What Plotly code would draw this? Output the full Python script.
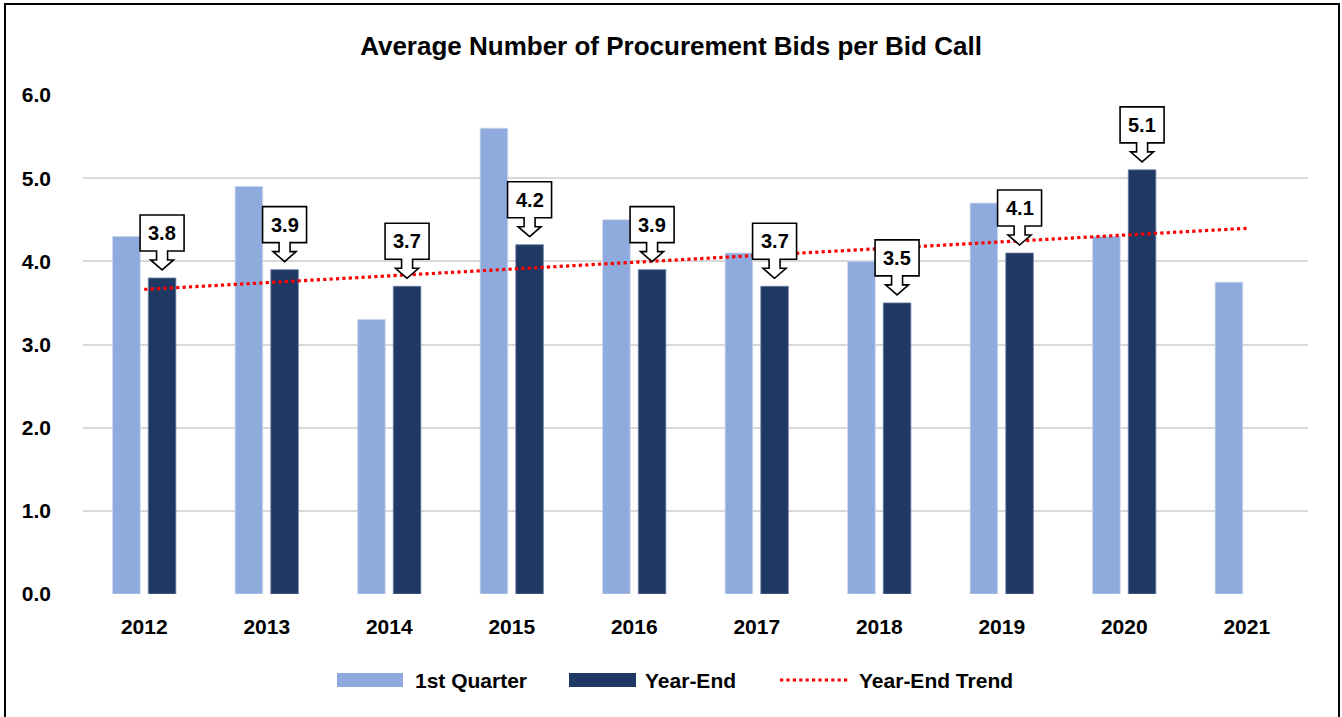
import numpy as np
import plotly.graph_objects as go

years = [2012, 2013, 2014, 2015, 2016, 2017, 2018, 2019, 2020, 2021]
q1_values = [4.3, 4.9, 3.3, 5.6, 4.5, 4.1, 4.0, 4.7, 4.3, 3.75]
ye_years = [2012, 2013, 2014, 2015, 2016, 2017, 2018, 2019, 2020]
ye_values = [3.8, 3.9, 3.7, 4.2, 3.9, 3.7, 3.5, 4.1, 5.1]
y_ticks = [0, 1, 2, 3, 4, 5, 6]

C_Q1 = "#8FAADC"
C_YE = "#203864"
C_TR = "#FF0000"
FONT = "Liberation Sans, Arial, sans-serif"

BAR_W = 0.225
Q1_OFF = -0.258
YE_OFF = 0.033

fig = go.Figure()
fig.add_trace(go.Bar(x=years, y=q1_values, name="1st Quarter", marker_color=C_Q1,
                     marker_line=dict(color="#C9D6EE", width=0.8),
                     width=BAR_W, offset=Q1_OFF, showlegend=False))
fig.add_trace(go.Bar(x=ye_years, y=ye_values, name="Year-End", marker_color=C_YE,
                     marker_line=dict(color="#6C7FA3", width=0.8),
                     width=BAR_W, offset=YE_OFF, showlegend=False))

# linear trend of year-end values, extended to the last category
coef = np.polyfit(ye_years, ye_values, 1)
tr_x = np.array([years[0], years[-1]], dtype=float)
tr_y = np.polyval(coef, tr_x)
fig.add_trace(go.Scatter(x=tr_x, y=tr_y, mode="lines", name="Year-End Trend",
                         line=dict(color=C_TR, width=3.2, dash="dot"), showlegend=False))

shapes = []
annotations = []
# callouts (pixel-sized paths anchored to the top of each year-end bar)
callout = ("M 0 8 L -11.5 18 L -5.5 18 L -5.5 27 L -22 27 L -22 63 "
           "L 22 63 L 22 27 L 5.5 27 L 5.5 18 L 11.5 18 Z")
for yr, v in zip(ye_years, ye_values):
    xc = yr + YE_OFF + BAR_W / 2
    shapes.append(dict(type="path", xref="x", yref="y", xsizemode="pixel", ysizemode="pixel",
                       xanchor=xc, yanchor=v, path=callout,
                       line=dict(color="black", width=1.6), fillcolor="white", layer="above"))
    annotations.append(dict(x=xc, y=v, xref="x", yref="y", text=f"<b>{v:.1f}</b>",
                            showarrow=False, yshift=45, xshift=0,
                            font=dict(family=FONT, size=20, color="black")))

# figure border
shapes.append(dict(type="rect", xref="paper", yref="paper",
                   x0=(5 - 83) / 1225, x1=(1339 - 83) / 1225,
                   y0=(594 - 718) / 499, y1=(594 - 4) / 499,
                   line=dict(color="black", width=2), layer="below"))

# legend (manual, to reproduce the wide swatches)
def px_x(p):
    return (p - 83) / 1225

def px_y(p):
    return (594 - p) / 499

leg_items = [("1st Quarter", C_Q1, "bar", 337, 403, 413),
             ("Year-End", C_YE, "bar", 569, 636, 643),
             ("Year-End Trend", C_TR, "line", 780, 850, 857)]
for label, col, kind, sx0, sx1, tx in leg_items:
    if kind == "bar":
        shapes.append(dict(type="rect", xref="paper", yref="paper",
                           x0=px_x(sx0), x1=px_x(sx1), y0=px_y(687), y1=px_y(673),
                           fillcolor=col, line=dict(width=0)))
    else:
        shapes.append(dict(type="line", xref="paper", yref="paper",
                           x0=px_x(sx0), x1=px_x(sx1), y0=px_y(680), y1=px_y(680),
                           line=dict(color=col, width=3.2, dash="dot")))
    annotations.append(dict(x=px_x(tx), y=px_y(680), xref="paper", yref="paper",
                            xanchor="left", yanchor="middle", showarrow=False,
                            text=f"<b>{label}</b>",
                            font=dict(family=FONT, size=21, color="black")))

fig.update_layout(
    width=1342, height=717,
    margin=dict(l=83, r=34, t=95, b=123),
    paper_bgcolor="white", plot_bgcolor="white",
    barmode="overlay",
    title=dict(text="<b>Average Number of Procurement Bids per Bid Call</b>",
               x=0.5, xanchor="center", y=1 - 46 / 717, yanchor="middle",
               font=dict(family=FONT, size=26, color="black")),
    xaxis=dict(range=[years[0] - 0.5, years[-1] + 0.5], tickvals=years,
               ticktext=[f"<b>{y}</b>" for y in years], showgrid=False, zeroline=False,
               showline=False, ticks="", ticklabelstandoff=18,
               tickfont=dict(family=FONT, size=21, color="black")),
    yaxis=dict(range=[0, 6], tickvals=y_ticks, ticktext=[f"<b>{t:.1f}</b>" for t in y_ticks],
               showgrid=True, gridcolor="#D9D9D9", gridwidth=1.5, zeroline=False,
               showline=False, ticks="", ticklabelstandoff=31,
               tickfont=dict(family=FONT, size=21, color="black")),
    shapes=shapes, annotations=annotations,
    font=dict(family=FONT),
)

fig.write_html("out.html", config={"displayModeBar": False},
               post_script="document.body.style.margin='0';")
